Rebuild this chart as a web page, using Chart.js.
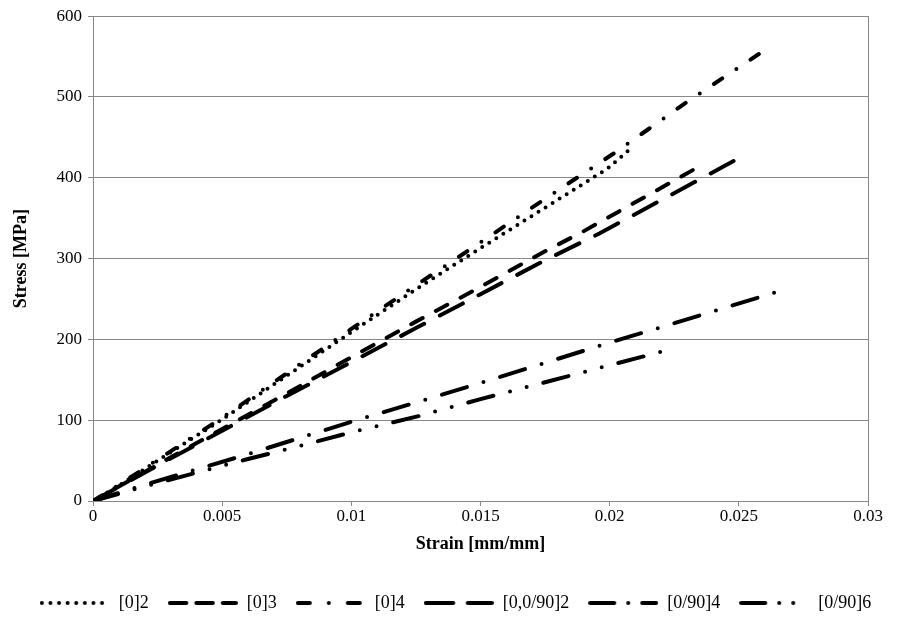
<!DOCTYPE html>
<html>
<head>
<meta charset="utf-8">
<script src="https://cdn.jsdelivr.net/npm/chart.js@4/dist/chart.umd.min.js"></script>
<style>
  html, body { margin: 0; padding: 0; background: #fff; }
  #wrap { width: 911px; height: 622px; position: relative; }
</style>
</head>
<body>
<div id="wrap"><canvas id="chart"></canvas></div>
<script>
// Laminate tensile tests: stress against strain for each lay-up
const seriesNames = ['[0]2', '[0]3', '[0]4', '[0,0/90]2', '[0/90]4', '[0/90]6'];

const strainA = [0, 0.001, 0.0025, 0.005, 0.0075, 0.01, 0.0125, 0.015, 0.0175, 0.0199, 0.0207];
const stressA = [0, 19, 50, 101, 155, 209, 262, 313, 363, 411, 433];

const strainB = [0, 0.0025, 0.005, 0.0075, 0.01, 0.0125, 0.015, 0.0175, 0.019, 0.0233];
const stressB = [0, 45, 89, 133, 178, 222, 265, 309, 334, 411];

const strainC = [0, 0.001, 0.0025, 0.005, 0.0075, 0.01, 0.0125, 0.015, 0.0175, 0.0202, 0.023, 0.026];
const stressC = [0, 20, 51, 103, 158, 213, 267, 320, 374, 431, 494, 558];

const strainD = [0, 0.0025, 0.005, 0.0075, 0.01, 0.0125, 0.015, 0.0175, 0.0196, 0.0251];
const stressD = [0, 44, 87, 130, 172, 214, 256, 298, 331, 426];

const strainE = [0, 0.002, 0.004, 0.006, 0.008, 0.01, 0.0123, 0.015, 0.0175, 0.02, 0.0225, 0.0268];
const stressE = [0, 20, 39, 58, 78, 98, 120, 146, 171, 196, 220, 262];

const strainF = [0, 0.002, 0.004, 0.006, 0.008, 0.01, 0.0126, 0.015, 0.0175, 0.02, 0.0224];
const stressF = [0, 18, 35, 52, 68, 85, 105, 126, 147, 168, 188];

const xTickLabels = ['0', '0.005', '0.01', '0.015', '0.02', '0.025', '0.03'];
const yTickLabels = ['0', '100', '200', '300', '400', '500', '600'];

const strains = [strainA, strainB, strainC, strainD, strainE, strainF];
const stresses = [stressA, stressB, stressC, stressD, stressE, stressF];

// line patterns (round caps turn zero-length dashes into dots)
const dashes = [
  [0, 8.3],
  [13, 15],
  [10, 17, 0, 17],
  [26, 17.7],
  [26, 17.4, 0, 17.4],
  [26, 17.2, 0, 17.2, 0, 17.2]
];
const legendDashes = [
  [0, 8.6],
  [16.5, 10],
  [12, 19, 0, 19],
  [27.5, 14.5],
  [24, 14, 0, 14],
  [24, 14, 0, 14, 0, 14]
];

const LINE_W = 4;
const SERIF = "'Liberation Serif', 'Times New Roman', serif";

function sampleLine(dash) {
  const cv = document.createElement('canvas');
  cv.width = 70; cv.height = 8;
  const g = cv.getContext('2d');
  g.strokeStyle = '#000';
  g.lineWidth = LINE_W;
  g.lineCap = 'round';
  g.setLineDash(dash);
  g.beginPath();
  g.moveTo(2, 4);
  g.lineTo(68, 4);
  g.stroke();
  return cv;
}
const samples = legendDashes.map(sampleLine);

const datasets = seriesNames.map((name, i) => ({
  label: name,
  data: strains[i].map((s, k) => ({ x: s, y: stresses[i][k] })),
  borderColor: '#000',
  backgroundColor: '#000',
  borderWidth: LINE_W,
  borderDash: dashes[i],
  borderCapStyle: 'round',
  borderJoinStyle: 'round',
  pointRadius: 0,
  pointHoverRadius: 0,
  tension: 0,
  fill: false
}));

// plot frame around the chart area
const frame = {
  id: 'frame',
  beforeDatasetsDraw(chart) {
    const a = chart.chartArea, ctx = chart.ctx;
    ctx.save();
    ctx.strokeStyle = '#888';
    ctx.lineWidth = 1;
    ctx.strokeRect(Math.round(a.left) + 0.5, Math.round(a.top) + 0.5,
                   Math.round(a.right - a.left), Math.round(a.bottom - a.top));
    ctx.restore();
  }
};

new Chart(document.getElementById('chart'), {
  type: 'line',
  data: { datasets },
  plugins: [frame],
  options: {
    responsive: true,
    maintainAspectRatio: false,
    animation: false,
    events: [],
    layout: { padding: { left: 0, right: 0, top: 14, bottom: 0 } },
    scales: {
      x: {
        type: 'linear',
        min: 0, max: 0.03,
        ticks: {
          stepSize: 0.005,
          color: '#000',
          font: { family: SERIF, size: 17 },
          padding: 0,
          maxRotation: 0,
          callback: (v, i) => xTickLabels[i]
        },
        grid: { drawOnChartArea: false, drawTicks: true, tickLength: 5, color: '#888' },
        border: { color: '#888' },
        title: {
          display: true,
          text: 'Strain [mm/mm]',
          color: '#000',
          font: { family: SERIF, size: 18, weight: 'bold' },
          padding: { top: 4, bottom: 20 }
        },
        afterFit: s => { s.height = 74; }
      },
      y: {
        min: 0, max: 600,
        ticks: {
          stepSize: 100,
          color: '#000',
          font: { family: SERIF, size: 17 },
          padding: 6,
          callback: (v, i) => yTickLabels[i]
        },
        grid: { color: '#888', tickLength: 5 },
        border: { color: '#888' },
        title: {
          display: true,
          text: 'Stress [MPa]',
          color: '#000',
          font: { family: SERIF, size: 18, weight: 'bold' },
          padding: { top: 11, bottom: 10 }
        },
        afterFit: s => { s.width = 93; }
      },
      // empty right-hand strip that leaves room for the last x label
      yRight: {
        position: 'right',
        min: 0, max: 600,
        ticks: { display: false },
        grid: { display: false },
        border: { display: false },
        afterFit: s => { s.width = 43; }
      }
    },
    plugins: {
      tooltip: { enabled: false },
      legend: {
        position: 'bottom',
        labels: {
          usePointStyle: true,
          pointStyleWidth: 70,
          padding: 19,
          color: '#000',
          font: { family: SERIF, size: 18 },
          generateLabels(chart) {
            const items = Chart.defaults.plugins.legend.labels.generateLabels(chart);
            return items.map((it, i) => Object.assign(it, { pointStyle: samples[i] }));
          }
        }
      }
    }
  }
});
</script>
</body>
</html>
